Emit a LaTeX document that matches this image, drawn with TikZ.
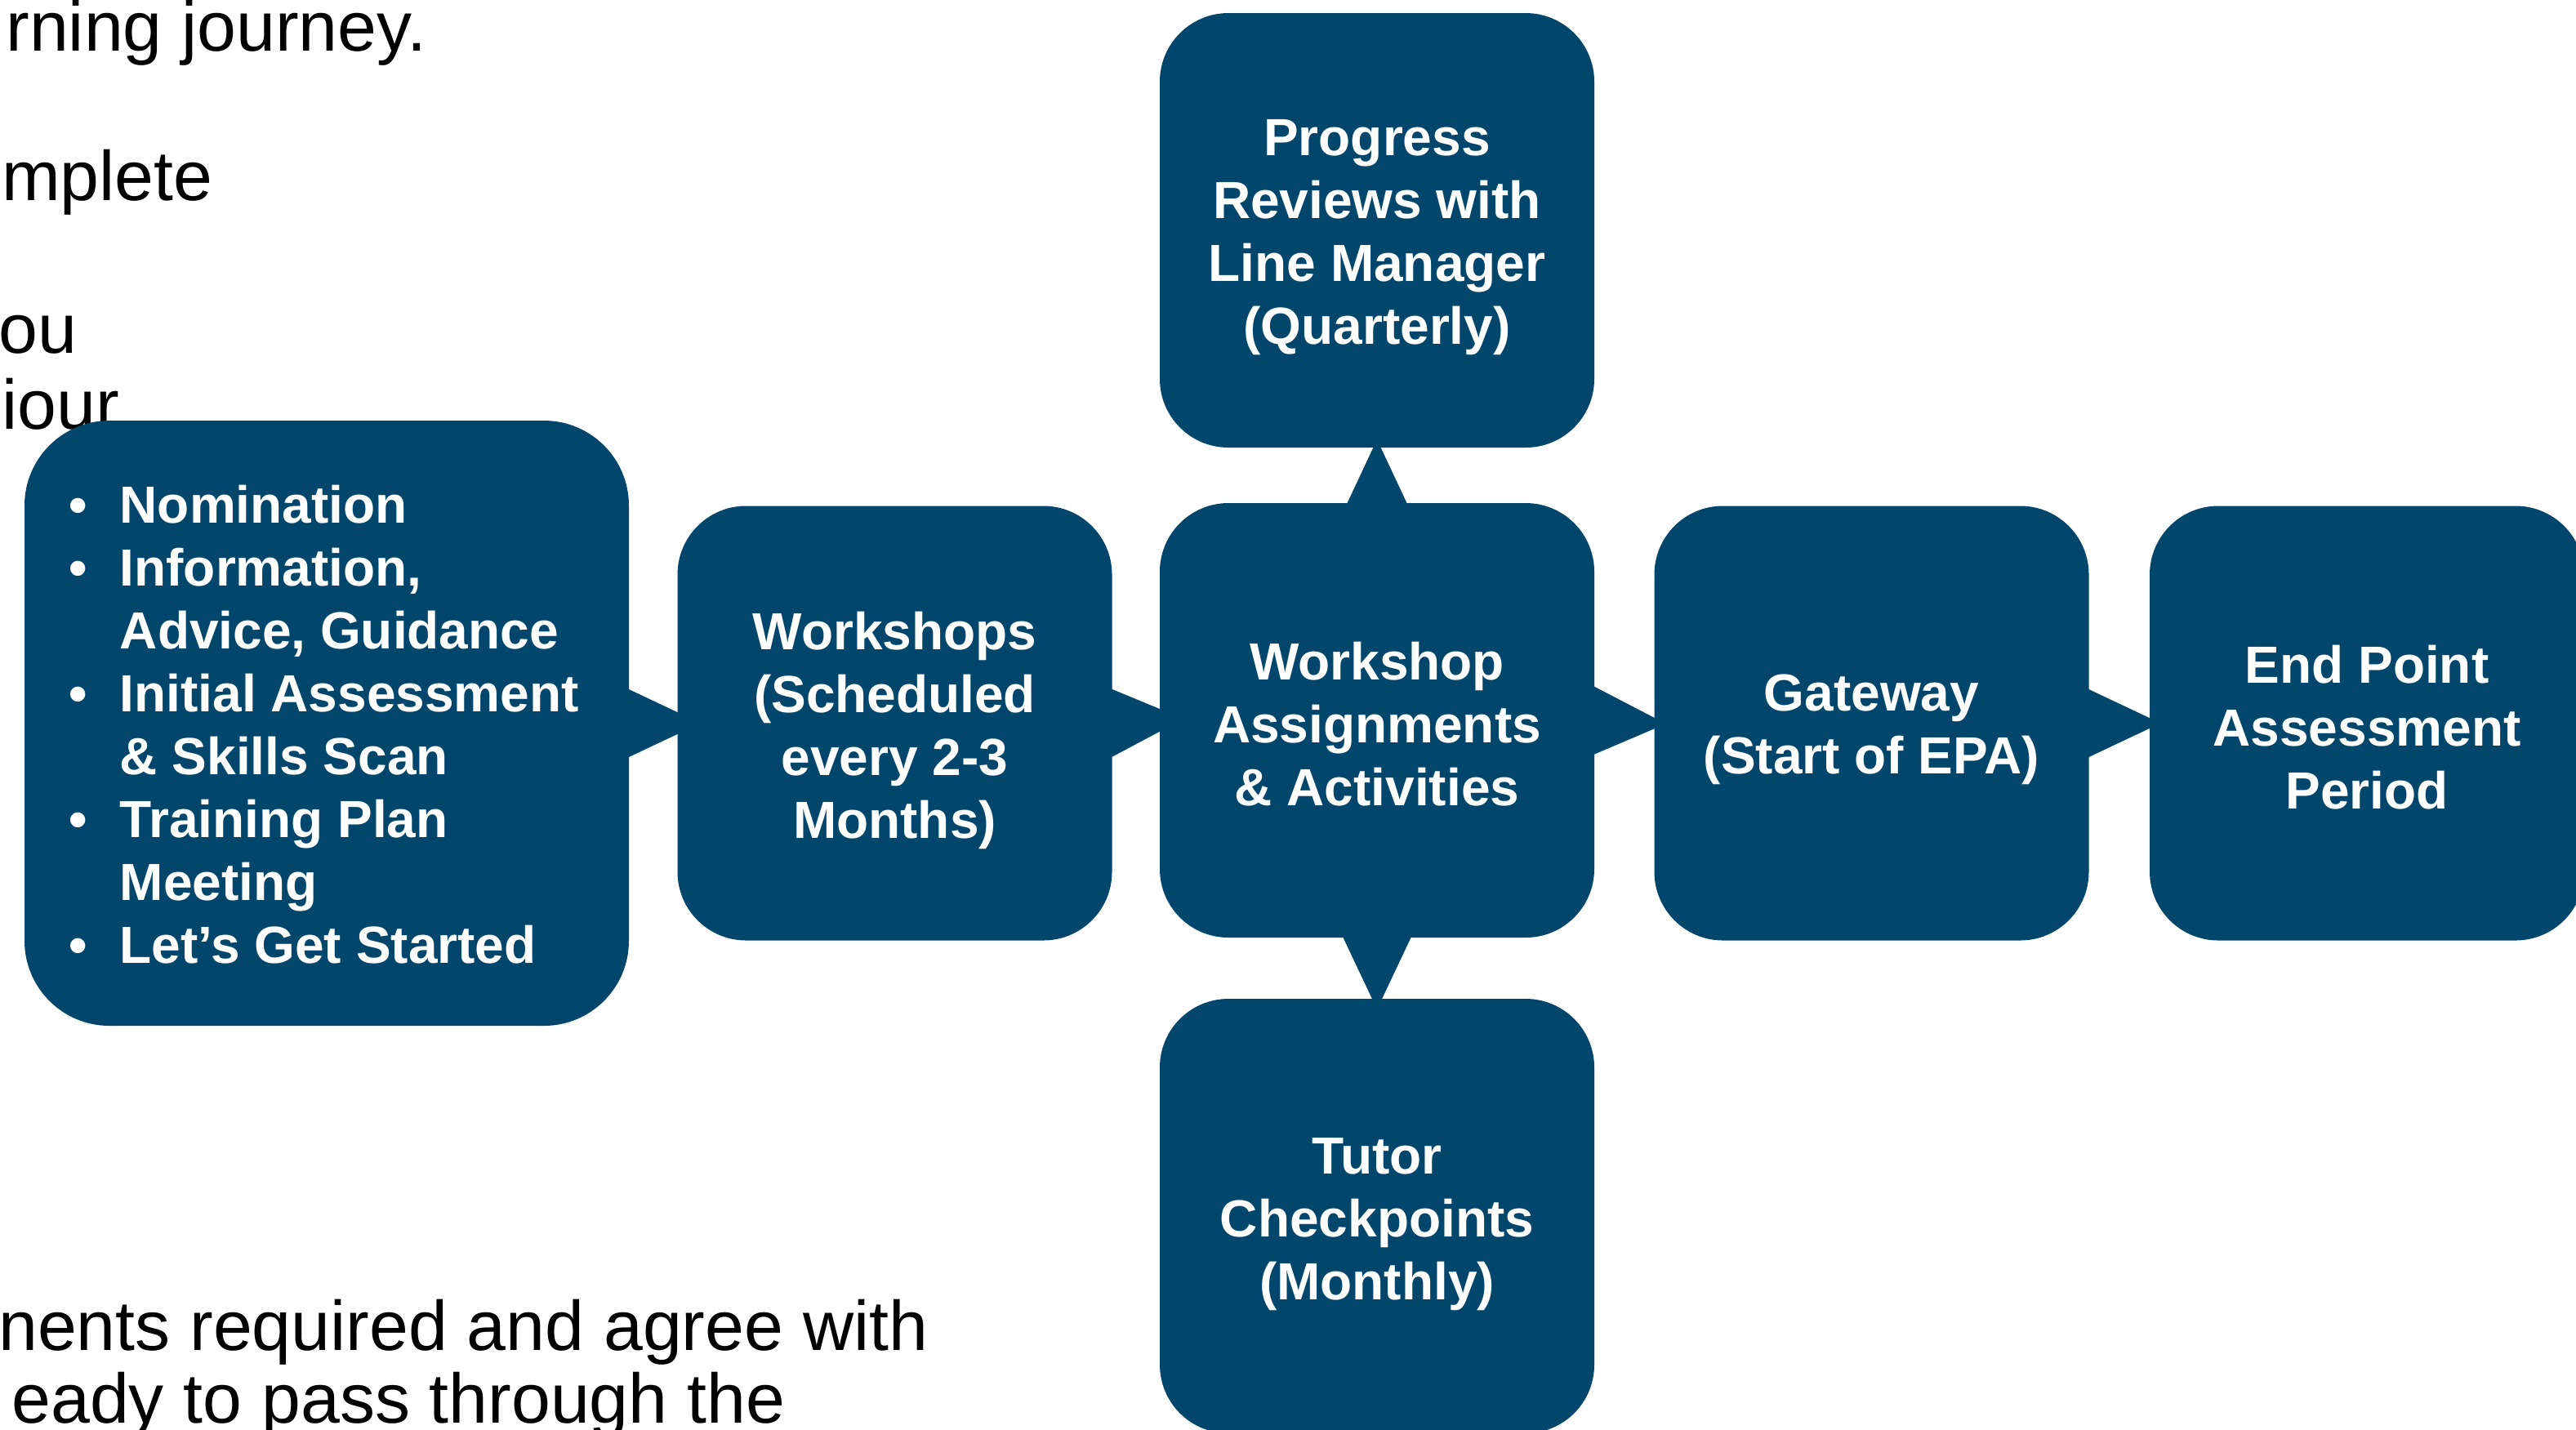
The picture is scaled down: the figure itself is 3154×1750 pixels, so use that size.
\documentclass[tikz,border=0pt]{standalone}
\usepackage{fontspec}
\setmainfont{Liberation Sans}
\usetikzlibrary{calc}
\definecolor{dblue}{HTML}{02476B}
\newcommand\bxfont{\bfseries\fontsize{16pt}{19.25pt}\selectfont}
\newcommand\bgfont{\fontsize{21.5pt}{23pt}\selectfont}
\begin{document}
\begin{tikzpicture}[x=0.25pt,y=-0.25pt,
  box/.style={fill=dblue, rounded corners=21pt, minimum width=133pt, minimum height=133pt,
              inner sep=0pt},
  btext/.style={inner sep=0pt, text=white, font=\bxfont, align=center},
  conn/.style={fill=dblue},
  bg/.style={anchor=base east, inner sep=0pt, font=\bgfont, text=black}]
\useasboundingbox (0,0) rectangle (3154,1750);
% background slide text fragments
\node[bg] (t1) at (523,62) {rning journey.};
\node[bg] (t2) at (261,245) {mplete};
\node[bg] (t3) at (95,432) {ou};
\node[bg] (t4) at (147,525) {iour};
\node[bg] (t5) at (1137,1653) {nents required and agree with};
\node[bg] (t6) at (962,1742) {eady to pass through the};
% boxes
\node[box, minimum width=185pt, minimum height=185.25pt, rounded corners=26pt] (nom) at (400,885.5) {};
\node[anchor=north west, inner sep=0pt, align=left, text=white, font=\bxfont] (list) at (84,593)
  {\makebox[15.5pt][l]{\textbullet}Nomination\\
   \makebox[15.5pt][l]{\textbullet}Information,\\
   \hspace*{15.5pt}Advice, Guidance\\
   \makebox[15.5pt][l]{\textbullet}Initial Assessment\\
   \hspace*{15.5pt}\& Skills Scan\\
   \makebox[15.5pt][l]{\textbullet}Training Plan\\
   \hspace*{15.5pt}Meeting\\
   \makebox[15.5pt][l]{\textbullet}Let’s Get Started};
\node[box] (work) at (1095.5,885.5) {};
\node[box] (cen) at (1686,882) {};
\node[box] (prog) at (1686,282) {};
\node[box] (tut) at (1686,1489) {};
\node[box] (gate) at (2291.5,885.5) {};
\node[box] (epa) at (2898,885.5) {};
% box labels
\node[btext] (workT) at ($(work)+(0,9)$) {Workshops\\(Scheduled\\every 2-3\\Months)};
\node[btext] (cenT) at ($(cen)+(0,5)$) {Workshop\\Assignments\\\& Activities};
\node[btext] (progT) at ($(prog)+(0,9)$) {Progress\\Reviews with\\Line Manager\\(Quarterly)};
\node[btext] (tutT) at ($(tut)+(0,10)$) {Tutor\\Checkpoints\\(Monthly)};
\node[btext] (gateT) at ($(gate)+(0,8)$) {Gateway\\(Start of EPA)};
\node[btext] (epaT) at ($(epa)+(0,5)$) {End Point\\Assessment\\Period};
% tapered connectors
\fill[conn] ($(nom.east)+(-4,-43)$) -- ($(nom.east)!21.75pt!(work.west)$) -- ($(nom.east)+(-4,43)$) -- cycle;
\fill[conn] ($(work.east)+(-4,-43)$) -- ($(work.east)!21.75pt!(cen.west)$) -- ($(work.east)+(-4,43)$) -- cycle;
\fill[conn] ($(cen.east)+(-4,-43)$) -- ($(cen.east)!21.75pt!(gate.west)$) -- ($(cen.east)+(-4,43)$) -- cycle;
\fill[conn] ($(gate.east)+(-4,-43)$) -- ($(gate.east)!21.75pt!(epa.west)$) -- ($(gate.east)+(-4,43)$) -- cycle;
\fill[conn] ($(cen.north)+(-38,4)$) -- ($(cen.north)!19.25pt!(prog.south)$) -- ($(cen.north)+(38,4)$) -- cycle;
\fill[conn] ($(cen.south)+(-43,-4)$) -- ($(cen.south)!21.75pt!(tut.north)$) -- ($(cen.south)+(43,-4)$) -- cycle;
\end{tikzpicture}
\end{document}
